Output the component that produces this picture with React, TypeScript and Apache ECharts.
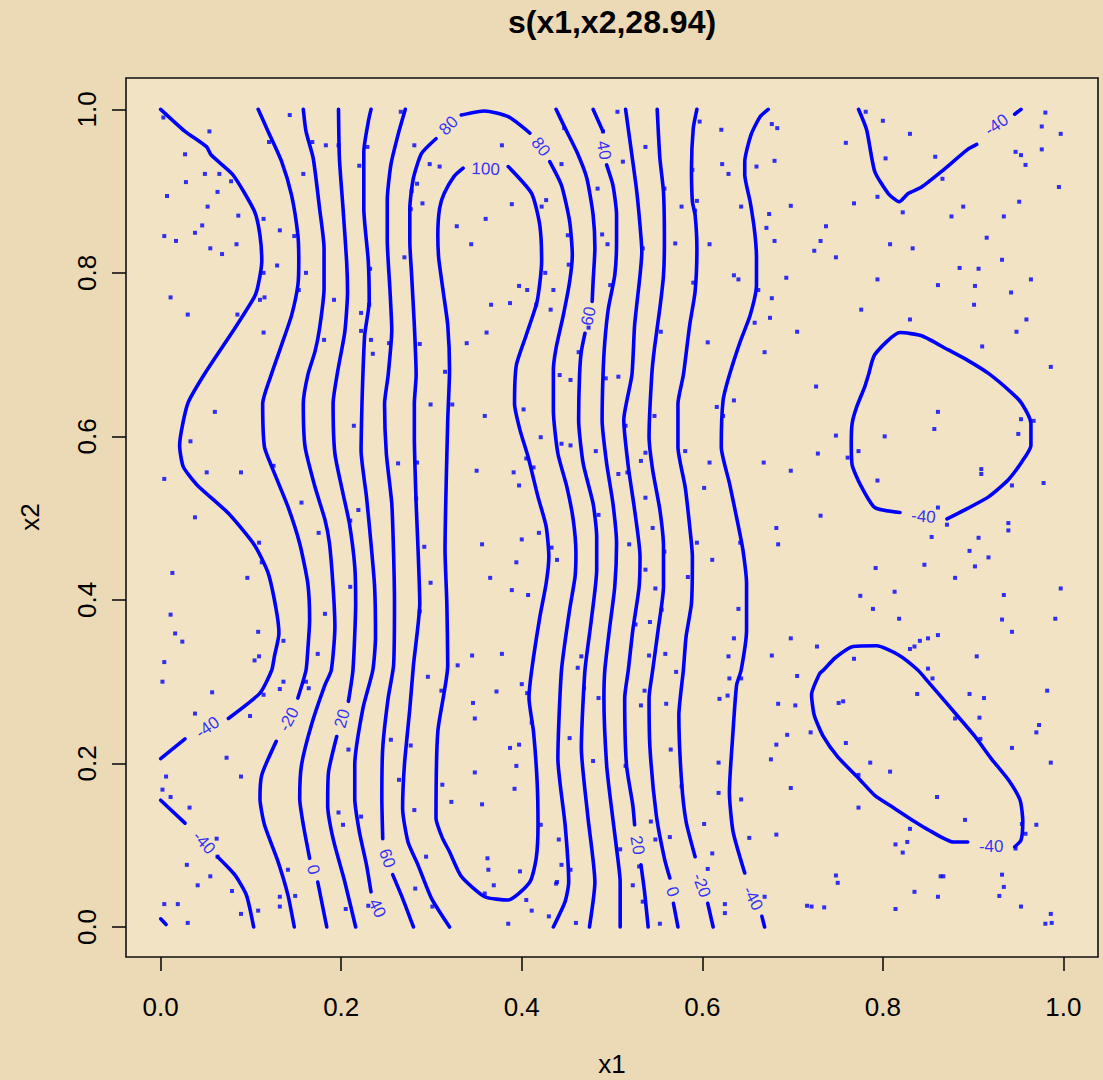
import React, { useEffect, useRef } from "react";
import * as echarts from "echarts";

const FONT = '"Liberation Sans", Arial, Helvetica, sans-serif';

const xTicks = [0, 0.2, 0.4, 0.6, 0.8, 1.0];
const yTicks = [0, 0.2, 0.4, 0.6, 0.8, 1.0];

// ---- contour polylines (data units), split where a label breaks the line ----
const neg40LeftA = [[0.000,1.000],[0.027,0.973],[0.051,0.954],[0.056,0.944],[0.080,0.920],[0.104,0.875],[0.110,0.846],[0.112,0.814],[0.108,0.785],[0.104,0.771],[0.082,0.732],[0.049,0.677],[0.030,0.640],[0.021,0.589],[0.025,0.563],[0.040,0.541],[0.075,0.506],[0.104,0.467],[0.119,0.433],[0.128,0.388],[0.131,0.359],[0.126,0.331],[0.123,0.314],[0.110,0.286],[0.075,0.255]];
const neg40LeftB = [[0.027,0.230],[0.000,0.206]];
const neg40LowLeftA = [[0.000,0.155],[0.027,0.127]];
const neg40LowLeftB = [[0.063,0.086],[0.082,0.064],[0.095,0.039],[0.103,0.000]];
const neg60Corner = [[0.000,0.010],[0.006,0.003]];
const neg20A = [[0.108,1.000],[0.119,0.973],[0.134,0.936],[0.145,0.895],[0.152,0.846],[0.153,0.814],[0.152,0.785],[0.145,0.748],[0.134,0.712],[0.123,0.677],[0.113,0.640],[0.115,0.587],[0.123,0.563],[0.141,0.514],[0.154,0.469],[0.163,0.420],[0.165,0.375],[0.163,0.339],[0.161,0.314],[0.152,0.280]];
const neg20B = [[0.128,0.227],[0.112,0.186],[0.110,0.157],[0.115,0.125],[0.130,0.080],[0.141,0.039],[0.148,0.000]];
const zeroA = [[0.158,1.000],[0.161,0.973],[0.169,0.940],[0.176,0.879],[0.181,0.830],[0.181,0.781],[0.176,0.732],[0.171,0.704],[0.163,0.675],[0.158,0.640],[0.160,0.587],[0.171,0.538],[0.182,0.498],[0.187,0.469],[0.191,0.416],[0.193,0.367],[0.189,0.314],[0.182,0.296],[0.167,0.247],[0.156,0.198],[0.154,0.157],[0.158,0.125],[0.165,0.084]];
const zeroB = [[0.174,0.055],[0.184,0.000]];
const pos20A = [[0.197,1.000],[0.198,0.940],[0.202,0.879],[0.206,0.814],[0.207,0.777],[0.204,0.728],[0.196,0.679],[0.191,0.640],[0.193,0.579],[0.202,0.530],[0.209,0.494],[0.215,0.441],[0.216,0.396],[0.213,0.314],[0.208,0.276]];
const pos20B = [[0.195,0.233],[0.186,0.190],[0.185,0.149],[0.191,0.108],[0.204,0.055],[0.216,0.000]];
const pos40 = [[0.233,1.000],[0.230,0.985],[0.225,0.948],[0.225,0.879],[0.230,0.814],[0.231,0.765],[0.226,0.724],[0.224,0.675],[0.223,0.640],[0.222,0.583],[0.228,0.526],[0.233,0.469],[0.237,0.416],[0.238,0.355],[0.235,0.314],[0.224,0.267],[0.215,0.198],[0.215,0.157],[0.220,0.117],[0.228,0.076],[0.233,0.043]];
const pos60LeftA = [[0.271,1.000],[0.263,0.969],[0.255,0.932],[0.251,0.889],[0.251,0.840],[0.254,0.779],[0.256,0.730],[0.252,0.675],[0.248,0.640],[0.250,0.579],[0.256,0.518],[0.258,0.457],[0.259,0.396],[0.258,0.320],[0.252,0.280],[0.246,0.219],[0.245,0.157],[0.246,0.108]];
const pos60LeftB = [[0.257,0.064],[0.268,0.035],[0.280,0.000]];
const pos80A = [[0.320,0.000],[0.300,0.035],[0.285,0.076],[0.274,0.104],[0.268,0.145],[0.270,0.198],[0.276,0.267],[0.280,0.320],[0.287,0.396],[0.285,0.465],[0.283,0.518],[0.281,0.600],[0.281,0.640],[0.283,0.675],[0.281,0.736],[0.278,0.797],[0.276,0.838],[0.276,0.879],[0.280,0.916],[0.289,0.946],[0.305,0.964]];
const pos80B = [[0.333,0.993],[0.359,0.998],[0.385,0.991],[0.409,0.971]];
const pos80C = [[0.431,0.936],[0.444,0.907],[0.453,0.863],[0.456,0.822],[0.453,0.789],[0.446,0.748],[0.438,0.708],[0.435,0.681],[0.435,0.632],[0.440,0.579],[0.450,0.538],[0.457,0.498],[0.460,0.457],[0.459,0.428],[0.453,0.388],[0.444,0.314],[0.440,0.206],[0.448,0.125],[0.452,0.055],[0.448,0.031],[0.435,0.000]];
const pos100 = [[0.385,0.930],[0.411,0.897],[0.420,0.858],[0.422,0.814],[0.417,0.765],[0.405,0.724],[0.394,0.687],[0.392,0.640],[0.398,0.608],[0.407,0.575],[0.418,0.526],[0.427,0.490],[0.430,0.453],[0.427,0.420],[0.420,0.379],[0.411,0.314],[0.408,0.280],[0.413,0.239],[0.417,0.178],[0.418,0.125],[0.416,0.084],[0.409,0.055],[0.385,0.033],[0.359,0.037],[0.333,0.062],[0.320,0.092],[0.312,0.109],[0.305,0.133],[0.307,0.239],[0.318,0.320],[0.317,0.396],[0.315,0.461],[0.318,0.620],[0.320,0.681],[0.318,0.736],[0.313,0.777],[0.308,0.818],[0.307,0.846],[0.309,0.879],[0.314,0.897],[0.325,0.918],[0.335,0.928]];
const pos60RightA = [[0.438,1.000],[0.448,0.977],[0.461,0.948],[0.472,0.916],[0.479,0.871],[0.481,0.830],[0.479,0.789],[0.478,0.765]];
const pos60RightB = [[0.470,0.726],[0.466,0.704],[0.464,0.675],[0.463,0.620],[0.468,0.567],[0.479,0.518],[0.483,0.477],[0.483,0.437],[0.477,0.375],[0.470,0.314],[0.466,0.219],[0.473,0.137],[0.481,0.055],[0.475,0.000]];
const pos40RightA = [[0.479,1.000],[0.490,0.973]];
const pos40RightB = [[0.494,0.932],[0.501,0.907],[0.505,0.871],[0.505,0.838],[0.503,0.797],[0.496,0.757],[0.492,0.716],[0.490,0.675],[0.489,0.620],[0.494,0.567],[0.501,0.518],[0.505,0.469],[0.503,0.416],[0.497,0.363],[0.492,0.314],[0.491,0.280],[0.494,0.198],[0.499,0.149],[0.505,0.096],[0.509,0.055],[0.509,0.000]];
const pos20RightA = [[0.515,1.000],[0.520,0.960],[0.527,0.903],[0.531,0.858],[0.533,0.826],[0.531,0.797],[0.525,0.736],[0.522,0.675],[0.513,0.620],[0.518,0.563],[0.525,0.510],[0.531,0.453],[0.530,0.416],[0.523,0.363],[0.518,0.314],[0.514,0.280],[0.516,0.198],[0.523,0.149],[0.525,0.125]];
const pos20RightB = [[0.532,0.076],[0.536,0.043],[0.540,0.000]];
const zeroRightA = [[0.550,1.000],[0.553,0.940],[0.557,0.899],[0.558,0.838],[0.557,0.797],[0.553,0.757],[0.547,0.708],[0.544,0.675],[0.541,0.600],[0.545,0.559],[0.553,0.510],[0.557,0.465],[0.557,0.416],[0.551,0.363],[0.545,0.314],[0.541,0.280],[0.542,0.219],[0.549,0.137],[0.558,0.084],[0.564,0.060]];
const zeroRightB = [[0.568,0.029],[0.573,0.000]];
const neg20RightA = [[0.594,1.000],[0.590,0.977],[0.588,0.928],[0.589,0.887],[0.592,0.871],[0.594,0.830],[0.592,0.777],[0.586,0.736],[0.579,0.675],[0.573,0.640],[0.573,0.587],[0.581,0.538],[0.586,0.490],[0.589,0.453],[0.588,0.396],[0.582,0.355],[0.579,0.314],[0.574,0.259],[0.577,0.178],[0.582,0.129],[0.592,0.086]];
const neg20RightB = [[0.606,0.029],[0.612,0.000]];
const neg40RightA = [[0.673,1.000],[0.664,0.991],[0.654,0.969],[0.647,0.936],[0.647,0.920],[0.653,0.887],[0.658,0.850],[0.660,0.818],[0.660,0.785],[0.653,0.748],[0.642,0.716],[0.630,0.675],[0.623,0.644],[0.621,0.587],[0.630,0.543],[0.640,0.490],[0.645,0.461],[0.649,0.420],[0.649,0.363],[0.643,0.314],[0.638,0.296],[0.634,0.239],[0.630,0.165],[0.634,0.117],[0.647,0.066]];
const neg40RightB = [[0.666,0.013],[0.669,0.000]];
const neg40TopRightA = [[0.773,1.000],[0.782,0.975],[0.791,0.924],[0.806,0.897],[0.818,0.887],[0.828,0.897],[0.843,0.905],[0.865,0.924],[0.894,0.951],[0.904,0.957]];
const neg40TopRightB = [[0.946,0.994],[0.953,1.000]];
const neg40MidLoop = [[0.871,0.499],[0.894,0.512],[0.917,0.526],[0.939,0.547],[0.954,0.569],[0.964,0.589],[0.964,0.616],[0.954,0.640],[0.943,0.653],[0.917,0.677],[0.894,0.693],[0.872,0.706],[0.843,0.723],[0.819,0.727],[0.791,0.700],[0.784,0.675],[0.780,0.661],[0.771,0.636],[0.766,0.616],[0.765,0.592],[0.766,0.565],[0.775,0.541],[0.791,0.513],[0.819,0.507]];
const neg40LowLoop = [[0.946,0.098],[0.953,0.106],[0.955,0.129],[0.952,0.155],[0.939,0.180],[0.920,0.206],[0.902,0.233],[0.882,0.259],[0.861,0.286],[0.850,0.300],[0.839,0.314],[0.817,0.333],[0.793,0.344],[0.767,0.343],[0.747,0.329],[0.734,0.314],[0.730,0.310],[0.721,0.284],[0.724,0.259],[0.734,0.233],[0.750,0.208],[0.773,0.182],[0.791,0.161],[0.813,0.145],[0.835,0.129],[0.847,0.121],[0.878,0.104],[0.894,0.104]];

const contourSegments = [
  neg40LeftA, neg40LeftB, neg40LowLeftA, neg40LowLeftB, neg60Corner,
  neg20A, neg20B, zeroA, zeroB, pos20A, pos20B, pos40, pos60LeftA, pos60LeftB,
  pos80A, pos80B, pos80C, pos100, pos60RightA, pos60RightB, pos40RightA, pos40RightB,
  pos20RightA, pos20RightB, zeroRightA, zeroRightB, neg20RightA, neg20RightB,
  neg40RightA, neg40RightB, neg40TopRightA, neg40TopRightB, neg40MidLoop, neg40LowLoop,
];

// ---- contour labels ----
const labelText = ["-40","-40","-20","0","20","60","40","80","80","100","40","60","20","0","-20","-40","-40","-40","-40"];
const labelPos = [[0.052,0.244],[0.048,0.103],[0.142,0.254],[0.169,0.070],[0.201,0.255],[0.251,0.084],[0.240,0.023],[0.319,0.980],[0.421,0.954],[0.360,0.927],[0.491,0.950],[0.474,0.747],[0.528,0.100],[0.567,0.043],[0.599,0.051],[0.656,0.035],[0.926,0.981],[0.845,0.502],[0.920,0.099]];
const labelRotate = [35,-48,62,-75,75,-70,-65,45,-52,-2,-80,78,-80,-70,-70,-62,35,-5,0];

// ---- observed covariate locations ----
const samplePoints = [
  [0.003,0.990],[0.054,0.973],[0.120,0.960],[0.143,0.993],[0.168,0.960],[0.183,0.956],[0.197,0.956],[0.229,0.954],[0.266,0.997],[0.281,0.956],[0.027,0.945],[0.049,0.921],[0.065,0.921],[0.028,0.911],[0.078,0.912],[0.063,0.899],[0.007,0.894],[0.052,0.881],[0.298,0.933],[0.309,0.930],[0.284,0.909],[0.278,0.900],[0.290,0.885],[0.277,0.878],[0.158,0.921],[0.220,0.931],[0.086,0.870],[0.114,0.866],[0.046,0.858],[0.038,0.849],[0.132,0.852],[0.004,0.845],[0.017,0.839],[0.148,0.845],[0.084,0.835],[0.055,0.830],[0.068,0.823],[0.270,0.819],[0.129,0.809],[0.232,0.805],[0.161,0.800],[0.114,0.800],[0.153,0.779],[0.192,0.767],[0.011,0.770],[0.115,0.770],[0.110,0.767],[0.231,0.761],[0.030,0.749],[0.085,0.749],[0.222,0.751],[0.114,0.727],[0.222,0.729],[0.181,0.718],[0.233,0.718],[0.253,0.714],[0.287,0.713],[0.235,0.701],[0.315,0.679],
  [0.378,0.956],[0.389,0.884],[0.360,0.866],[0.328,0.857],[0.344,0.835],[0.422,0.881],[0.427,0.889],[0.444,0.933],[0.447,0.977],[0.490,0.973],[0.506,0.997],[0.537,0.954],[0.512,0.936],[0.484,0.903],[0.489,0.847],[0.495,0.835],[0.451,0.846],[0.452,0.810],[0.426,0.800],[0.397,0.784],[0.406,0.779],[0.435,0.779],[0.498,0.785],[0.366,0.761],[0.387,0.763],[0.416,0.761],[0.432,0.755],[0.361,0.727],[0.339,0.714],[0.474,0.733],[0.463,0.703],[0.597,0.985],[0.621,0.975],[0.589,0.926],[0.622,0.933],[0.629,0.921],[0.660,0.930],[0.680,0.937],[0.677,0.982],[0.683,0.977],[0.558,0.903],[0.577,0.881],[0.594,0.888],[0.592,0.876],[0.643,0.881],[0.674,0.872],[0.671,0.855],[0.680,0.839],[0.570,0.836],[0.608,0.835],[0.534,0.830],[0.635,0.797],[0.640,0.792],[0.590,0.788],[0.662,0.779],[0.677,0.769],[0.675,0.745],[0.658,0.739],[0.554,0.728],[0.606,0.715],[0.669,0.703],
  [0.781,0.997],[0.800,0.986],[0.830,0.970],[0.759,0.959],[0.803,0.940],[0.858,0.942],[0.866,0.915],[0.794,0.893],[0.768,0.885],[0.822,0.874],[0.698,0.882],[0.737,0.857],[0.731,0.839],[0.724,0.827],[0.748,0.819],[0.808,0.835],[0.833,0.830],[0.693,0.794],[0.794,0.792],[0.861,0.785],[0.776,0.755],[0.830,0.743],[0.705,0.728],[0.889,0.881],[0.876,0.869],[0.934,0.869],[0.915,0.843],[0.951,0.887],[0.932,0.816],[0.885,0.806],[0.906,0.805],[0.902,0.784],[0.942,0.776],[0.964,0.792],[0.901,0.761],[0.959,0.743],[0.948,0.728],[0.910,0.710],[0.986,0.685],[0.980,0.996],[0.976,0.979],[0.997,0.970],[0.947,0.948],[0.953,0.944],[0.976,0.951],[0.958,0.932],[0.995,0.905],
  [0.299,0.639],[0.323,0.639],[0.060,0.630],[0.033,0.594],[0.051,0.556],[0.089,0.556],[0.004,0.548],[0.125,0.564],[0.214,0.613],[0.263,0.567],[0.284,0.568],[0.283,0.524],[0.156,0.519],[0.219,0.510],[0.210,0.497],[0.175,0.482],[0.038,0.501],[0.109,0.470],[0.292,0.465],[0.112,0.446],[0.013,0.433],[0.096,0.427],[0.299,0.421],[0.210,0.416],[0.011,0.382],[0.182,0.383],[0.287,0.386],[0.016,0.359],[0.024,0.349],[0.108,0.361],[0.136,0.350],[0.174,0.334],[0.109,0.331],[0.104,0.326],[0.004,0.324],
  [0.359,0.625],[0.402,0.633],[0.442,0.675],[0.454,0.669],[0.493,0.671],[0.507,0.673],[0.421,0.599],[0.444,0.591],[0.454,0.589],[0.405,0.573],[0.413,0.562],[0.350,0.558],[0.391,0.556],[0.397,0.540],[0.482,0.582],[0.515,0.613],[0.537,0.580],[0.532,0.570],[0.507,0.554],[0.517,0.556],[0.547,0.625],[0.616,0.636],[0.635,0.644],[0.623,0.625],[0.581,0.582],[0.608,0.568],[0.602,0.537],[0.668,0.568],[0.537,0.525],[0.485,0.504],[0.545,0.488],[0.419,0.482],[0.400,0.474],[0.356,0.468],[0.433,0.464],[0.439,0.449],[0.394,0.446],[0.365,0.427],[0.389,0.412],[0.407,0.406],[0.519,0.468],[0.558,0.459],[0.537,0.437],[0.548,0.414],[0.594,0.470],[0.611,0.449],[0.584,0.428],[0.642,0.470],[0.682,0.488],[0.684,0.468],[0.555,0.388],[0.526,0.370],[0.542,0.373],[0.640,0.389],[0.635,0.353],[0.629,0.331],[0.677,0.332],[0.541,0.332],[0.559,0.334],[0.466,0.331],[0.462,0.317],[0.378,0.334],[0.345,0.332],[0.329,0.320],
  [0.726,0.661],[0.861,0.630],[0.857,0.609],[0.953,0.621],[0.967,0.619],[0.950,0.603],[0.748,0.601],[0.802,0.600],[0.728,0.579],[0.773,0.582],[0.761,0.574],[0.698,0.558],[0.909,0.560],[0.909,0.554],[0.794,0.546],[0.943,0.540],[0.978,0.543],[0.731,0.503],[0.861,0.513],[0.871,0.492],[0.854,0.477],[0.939,0.494],[0.939,0.485],[0.906,0.476],[0.896,0.460],[0.917,0.452],[0.846,0.443],[0.902,0.441],[0.792,0.439],[0.880,0.427],[0.813,0.410],[0.775,0.405],[0.997,0.414],[0.934,0.406],[0.789,0.389],[0.818,0.377],[0.932,0.376],[0.991,0.377],[0.943,0.361],[0.698,0.353],[0.727,0.343],[0.850,0.353],[0.841,0.350],[0.835,0.343],[0.830,0.340],[0.861,0.357],[0.904,0.331],[0.768,0.328],[0.850,0.316],
  [0.002,0.300],[0.057,0.287],[0.136,0.300],[0.132,0.291],[0.161,0.300],[0.164,0.292],[0.114,0.284],[0.099,0.258],[0.038,0.261],[0.073,0.207],[0.089,0.184],[0.006,0.184],[0.002,0.168],[0.011,0.159],[0.032,0.146],[0.062,0.108],[0.063,0.086],[0.029,0.076],[0.055,0.062],[0.041,0.051],[0.079,0.044],[0.004,0.028],[0.019,0.028],[0.030,0.005],[0.089,0.016],[0.108,0.020],[0.132,0.037],[0.132,0.025],[0.149,0.038],[0.141,0.070],[0.197,0.140],[0.202,0.125],[0.222,0.135],[0.208,0.217],[0.255,0.229],[0.277,0.222],[0.264,0.180],[0.281,0.143],[0.312,0.174],[0.311,0.289],[0.296,0.306],[0.294,0.086],[0.282,0.047],[0.301,0.025],[0.205,0.022],[0.230,0.026],[0.322,0.153],
  [0.400,0.297],[0.372,0.288],[0.406,0.286],[0.346,0.274],[0.348,0.255],[0.485,0.280],[0.469,0.292],[0.411,0.250],[0.387,0.219],[0.397,0.223],[0.394,0.197],[0.348,0.189],[0.392,0.169],[0.453,0.231],[0.479,0.203],[0.515,0.197],[0.356,0.150],[0.421,0.125],[0.441,0.107],[0.362,0.084],[0.363,0.070],[0.398,0.068],[0.369,0.051],[0.444,0.076],[0.454,0.070],[0.439,0.055],[0.438,0.053],[0.405,0.033],[0.359,0.041],[0.411,0.020],[0.385,0.004],[0.430,0.013],[0.460,0.005],[0.523,0.051],[0.534,0.031],[0.530,0.074],[0.509,0.095],[0.553,0.004],[0.536,0.289],[0.532,0.271],[0.560,0.273],[0.571,0.312],[0.565,0.217],[0.543,0.129],[0.548,0.107],[0.564,0.110],[0.577,0.172],[0.602,0.126],[0.611,0.090],[0.606,0.071],[0.618,0.201],[0.618,0.164],[0.643,0.156],[0.652,0.109],[0.682,0.113],[0.676,0.205],[0.682,0.223],[0.684,0.273],[0.630,0.304],[0.643,0.304],[0.619,0.279],[0.628,0.283],[0.625,0.028],[0.625,0.017],[0.669,0.037],
  [0.705,0.307],[0.855,0.304],[0.838,0.285],[0.896,0.285],[0.912,0.280],[0.982,0.289],[0.703,0.271],[0.751,0.274],[0.756,0.276],[0.880,0.255],[0.907,0.256],[0.973,0.247],[0.970,0.238],[0.694,0.235],[0.720,0.238],[0.759,0.225],[0.908,0.230],[0.943,0.219],[0.986,0.201],[0.786,0.201],[0.808,0.190],[0.773,0.186],[0.698,0.170],[0.860,0.159],[0.773,0.146],[0.891,0.131],[0.830,0.120],[0.954,0.126],[0.970,0.125],[0.958,0.114],[0.947,0.096],[0.827,0.104],[0.814,0.101],[0.822,0.091],[0.748,0.063],[0.750,0.054],[0.864,0.062],[0.867,0.062],[0.932,0.064],[0.934,0.049],[0.835,0.043],[0.861,0.037],[0.929,0.038],[0.716,0.026],[0.721,0.025],[0.735,0.024],[0.814,0.022],[0.953,0.025],[0.986,0.016],[0.987,0.005],[0.980,0.004],
];

const titleText = "s(x1,x2,28.94)";
const xName = "x1";
const yName = "x2";

export default function App() {
  const ref = useRef<HTMLDivElement>(null);

  useEffect(() => {
    document.body.style.margin = "0";
    const chart = echarts.init(ref.current as HTMLDivElement, null, { renderer: "svg" });

    const contourSeries = contourSegments.map((seg) => ({
      type: "line",
      data: seg,
      showSymbol: false,
      symbol: "none",
      silent: true,
      smooth: 0.2,
      lineStyle: { color: "#0000FF", width: 3.6, cap: "round", join: "round" },
      z: 3,
    }));

    chart.setOption({
      animation: false,
      backgroundColor: "#ECD9B5",
      textStyle: { fontFamily: FONT },
      graphic: [
        {
          type: "text",
          x: 612,
          y: 22,
          style: { text: titleText, font: `bold 32px ${FONT}`, fill: "#000", align: "center", verticalAlign: "middle" },
        },
        {
          type: "text",
          x: 612,
          y: 1064,
          style: { text: xName, font: `26px ${FONT}`, fill: "#000", align: "center", verticalAlign: "middle" },
        },
        {
          type: "text",
          x: 30,
          y: 517,
          rotation: Math.PI / 2,
          style: { text: yName, font: `26px ${FONT}`, fill: "#000", align: "center", verticalAlign: "middle" },
        },
      ],
      grid: {
        left: 126,
        top: 78,
        width: 972,
        height: 879,
        show: true,
        borderColor: "#111",
        borderWidth: 1.6,
        backgroundColor: "#F1E3C3",
      },
      xAxis: {
        type: "value",
        min: -0.0384,
        max: 1.0383,
        splitLine: { show: false },
        axisLine: { show: false, onZero: false },
        axisTick: { show: true, inside: false, length: 14, lineStyle: { color: "#111", width: 1.6 }, customValues: xTicks },
        axisLabel: {
          customValues: xTicks,
          formatter: (v: number) => v.toFixed(1),
          fontSize: 26,
          color: "#000",
          fontFamily: FONT,
          margin: 37,
        },
      },
      yAxis: {
        type: "value",
        min: -0.0367,
        max: 1.0383,
        splitLine: { show: false },
        axisLine: { show: false, onZero: false },
        axisTick: { show: true, inside: false, length: 14, lineStyle: { color: "#111", width: 1.6 }, customValues: yTicks },
        axisLabel: {
          customValues: yTicks,
          rotate: 90,
          formatter: (v: number) => v.toFixed(1),
          fontSize: 26,
          color: "#000",
          fontFamily: FONT,
          margin: 26,
        },
      },
      series: [
        ...contourSeries,
        {
          type: "scatter",
          data: samplePoints,
          symbol: "rect",
          symbolSize: 4,
          silent: true,
          itemStyle: { color: "#0000FF" },
          z: 4,
        },
        {
          type: "scatter",
          silent: true,
          symbolSize: 1,
          itemStyle: { color: "rgba(0,0,0,0)" },
          data: labelPos.map((p, i) => ({ name: labelText[i], value: p, label: { rotate: labelRotate[i] } })),
          label: {
            show: true,
            position: "inside",
            formatter: "{b}",
            color: "#0000FF",
            fontSize: 17,
            fontFamily: FONT,
          },
          labelLayout: { hideOverlap: false },
          z: 5,
        },
      ],
    });

    return () => chart.dispose();
  }, []);

  return <div ref={ref} style={{ width: 1103, height: 1080 }} />;
}
